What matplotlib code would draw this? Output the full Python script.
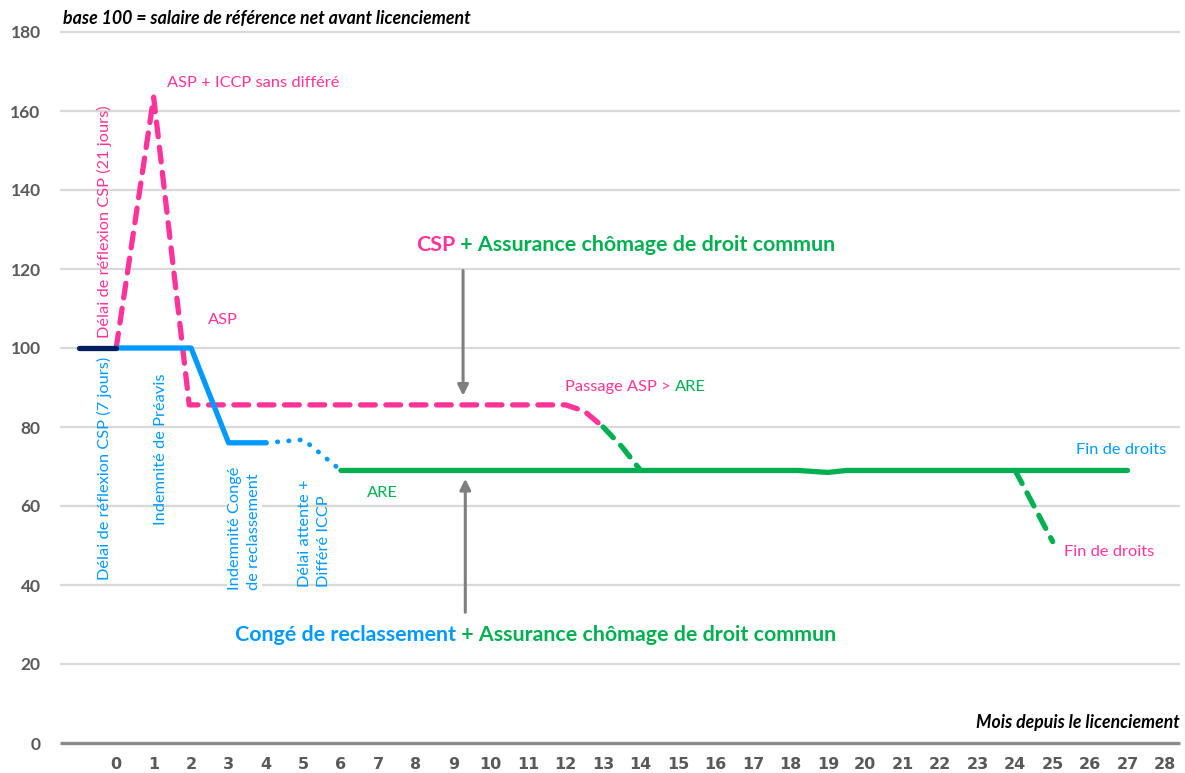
import matplotlib
matplotlib.use('Agg')
import matplotlib.pyplot as plt

plt.rcParams['font.family'] = ['Lato', 'DejaVu Sans']

PINK = '#ff3399'
BLUE = '#0099ff'
GREEN = '#00b050'
NAVY = '#002060'
GREY = '#595959'

# axes
months = list(range(0, 29))
y_ticks = [0, 20, 40, 60, 80, 100, 120, 140, 160, 180]

# series (base 100 = salaire net avant licenciement)
navy_x = [-1, 0]
navy_y = [100, 100]
conge_x = [0, 2, 3, 4]
conge_y = [100, 100, 76, 76]
attente_x = [4, 5, 6]
attente_y = [76, 76.8, 69]
are_x = [6, 18.2, 19, 19.5, 27]
are_y = [69, 69, 68.5, 69, 69]
csp_x = [0, 1, 1.95, 12, 12.5, 13]
csp_y = [100, 163.5, 85.6, 85.6, 84, 80]
passage_x = [13, 13.5, 14]
passage_y = [80, 75, 69]
fin_x = [24, 25]
fin_y = [69, 51]

fig = plt.figure(figsize=(11.85, 7.73), dpi=100)
ax = fig.add_axes([60 / 1185, 30 / 773, 1120 / 1185, 711 / 773])
ax.set_xlim(-1.5, 28.4)
ax.set_ylim(0, 180)
for s in ax.spines.values():
    s.set_visible(False)

ax.hlines(y_ticks[1:], -1.5, 28.4, color='#d9d9d9', lw=1.6, clip_on=False, zorder=0)
ax.hlines([0], -1.5, 28.4, color='#8c8c8c', lw=2.4, clip_on=False, zorder=1)

ax.set_xticks(months)
ax.set_xticklabels([str(m) for m in months], family=['Liberation Sans Narrow', 'DejaVu Sans'],
                   fontsize=11.5, fontweight='bold', color=GREY)
ax.set_yticks(y_ticks)
ax.set_yticklabels([str(v) for v in y_ticks], fontsize=12.5, fontweight='bold', color=GREY)
ax.tick_params(axis='x', length=0, pad=10)
ax.tick_params(axis='y', length=0, pad=14)

dash = (0, (2.8, 2.0))
lw = 3.8
ax.plot(csp_x, csp_y, color=PINK, lw=lw, ls=dash, dash_capstyle='round', zorder=3)
ax.plot(passage_x, passage_y, color=GREEN, lw=lw, ls=dash, dash_capstyle='round', zorder=3)
ax.plot(fin_x, fin_y, color=GREEN, lw=lw, ls=dash, dash_capstyle='round', zorder=3)
ax.plot(are_x, are_y, color=GREEN, lw=lw, solid_capstyle='round', zorder=4)
ax.plot(attente_x, attente_y, color=BLUE, lw=3.4, ls=(0, (0.1, 2.3)), dash_capstyle='round', zorder=4)
ax.plot(conge_x, conge_y, color=BLUE, lw=lw, solid_capstyle='round', zorder=5)
ax.plot(navy_x, navy_y, color=NAVY, lw=lw, solid_capstyle='round', zorder=5)

# header / axis title
fig.text(63 / 1185, 1 - 18 / 773, 'base 100 = salaire de référence net avant licenciement',
         fontsize=12.8, fontweight='bold', style='italic', va='center', ha='left')
ax.text(28.4, 5.1, 'Mois depuis le licenciement', fontsize=12.7, fontweight='bold',
        style='italic', ha='right', va='center')

# vertical labels
fs = 11.8
ax.text(-0.32, 102.5, 'Délai de réflexion CSP (21 jours)', color=PINK, rotation=90,
        fontsize=fs, ha='center', va='bottom')
ax.text(-0.32, 41.3, 'Délai de réflexion CSP (7 jours)', color=BLUE, rotation=90,
        fontsize=fs, ha='center', va='bottom')
ax.text(1.2, 55.2, 'Indemnité de Préavis', color=BLUE, rotation=90,
        fontsize=fs, ha='center', va='bottom')
ax.text(3.42, 38.7, 'Indemnité Congé\nde reclassement', color=BLUE, rotation=90,
        fontsize=fs, ha='center', va='bottom', multialignment='left', linespacing=1.45,
        bbox=dict(facecolor='white', edgecolor='none', pad=1))
ax.text(5.29, 39.5, 'Délai attente +\nDifféré ICCP', color=BLUE, rotation=90,
        fontsize=fs, ha='center', va='bottom', multialignment='left', linespacing=1.45)

# other labels
ax.text(1.36, 167.1, 'ASP + ICCP sans différé', color=PINK, fontsize=fs, va='center')
ax.text(2.46, 107.1, 'ASP', color=PINK, fontsize=fs, va='center')
t = ax.text(11.99, 90.1, 'Passage ASP > ', color=PINK, fontsize=fs, va='center')
ax.annotate('ARE', xy=(1, 0), xycoords=t, color=GREEN, fontsize=fs, va='bottom')
ax.text(6.7, 63.3, 'ARE', color=GREEN, fontsize=fs, va='center')
ax.text(25.63, 74.2, 'Fin de droits', color=BLUE, fontsize=fs, va='center')
ax.text(25.3, 48.4, 'Fin de droits', color=PINK, fontsize=fs, va='center')

# headlines
t = ax.text(8.01, 126.1, 'CSP', color=PINK, fontsize=15.4, fontweight='bold', va='center')
ax.annotate(' + Assurance chômage de droit commun', xy=(1, 0), xycoords=t, color=GREEN,
            fontsize=15.4, fontweight='bold', va='bottom')
t = ax.text(3.18, 27.3, 'Congé de reclassement', color=BLUE, fontsize=15.4, fontweight='bold',
            va='center')
ax.annotate(' + Assurance chômage de droit commun', xy=(1, 0), xycoords=t, color=GREEN,
            fontsize=15.4, fontweight='bold', va='bottom')

# arrows
arrow = dict(arrowstyle='-|>', color='#7f7f7f', lw=2.2, mutation_scale=16)
ax.annotate('', xy=(9.26, 87.2), xytext=(9.26, 120.3), arrowprops=arrow)
ax.annotate('', xy=(9.32, 67.6), xytext=(9.32, 32.4), arrowprops=arrow)

fig.savefig('out.png', dpi=100)
